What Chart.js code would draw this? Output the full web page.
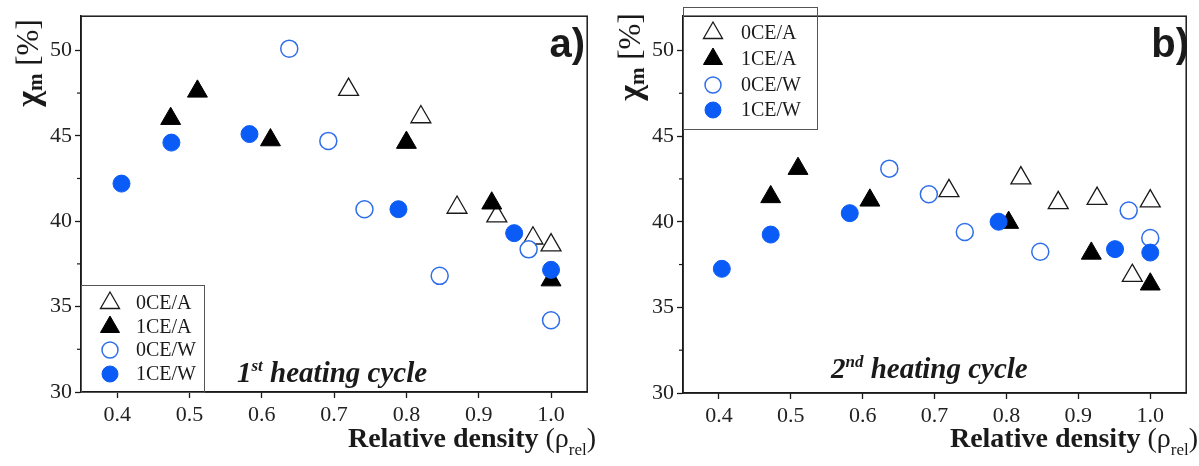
<!DOCTYPE html>
<html>
<head>
<meta charset="utf-8">
<script src="https://cdn.jsdelivr.net/npm/chart.js@4/dist/chart.umd.min.js"></script>
<style>
    html, body { margin: 0; padding: 0; background: #fff; }
    .panel { position: absolute; top: 0; height: 466px; }
    #wrapA { left: 0; width: 600px; }
    #wrapB { left: 600px; width: 599px; }
</style>
</head>
<body>
<div class="panel" id="wrapA"><canvas id="chartA"></canvas></div>
<div class="panel" id="wrapB"><canvas id="chartB"></canvas></div>
<script>
// Axis ticks
const xTicks = [0.4, 0.5, 0.6, 0.7, 0.8, 0.9, 1.0];
const yTicks = [30, 35, 40, 45, 50];
const yMinorTicks = [32.5, 37.5, 42.5, 47.5];
const seriesNames = ['0CE/A', '1CE/A', '0CE/W', '1CE/W'];

// a) 1st heating cycle
const a0CEA_x = [0.72, 0.82, 0.87, 0.925, 0.975, 1.0];
const a0CEA_y = [47.7, 46.1, 40.8, 40.3, 39.0, 38.6];
const a1CEA_x = [0.474, 0.511, 0.612, 0.80, 0.918, 1.0];
const a1CEA_y = [46.0, 47.6, 44.75, 44.6, 41.05, 36.55];
const a0CEW_x = [0.638, 0.692, 0.742, 0.846, 0.969, 1.0];
const a0CEW_y = [50.1, 44.7, 40.7, 36.8, 38.35, 34.2];
const a1CEW_x = [0.406, 0.475, 0.583, 0.789, 0.949, 1.0];
const a1CEW_y = [42.2, 44.6, 45.1, 40.7, 39.3, 37.15];

// b) 2nd heating cycle
const b0CEA_x = [0.72, 0.82, 0.872, 0.926, 0.975, 1.0];
const b0CEA_y = [41.8, 42.55, 41.1, 41.35, 36.85, 41.2];
const b1CEA_x = [0.472, 0.51, 0.61, 0.803, 0.918, 1.0];
const b1CEA_y = [41.45, 43.1, 41.25, 39.95, 38.15, 36.35];
const b0CEW_x = [0.637, 0.692, 0.742, 0.847, 0.97, 1.0];
const b0CEW_y = [43.1, 41.6, 39.4, 38.25, 40.65, 39.05];
const b1CEW_x = [0.404, 0.472, 0.582, 0.789, 0.951, 1.0];
const b1CEW_y = [37.25, 39.25, 40.5, 40.0, 38.4, 38.2];

const SERIF = '"Liberation Serif", "Times New Roman", serif';
const SANS = '"Liberation Sans", Arial, sans-serif';
const INK = '#1a1a1a';
const BLUE = '#0b5cf6';
const BLUE_LINE = '#2f6eea';

function pts(xs, ys) {
    return xs.map((x, i) => ({x: x, y: ys[i]}));
}

function makeDatasets(s) {
    return [
        {label: seriesNames[0], data: pts(s[0][0], s[0][1]), pointStyle: 'triangle', pointRadius: 11.5,
         backgroundColor: '#fff', borderColor: INK, borderWidth: 1.3, order: 4},
        {label: seriesNames[1], data: pts(s[1][0], s[1][1]), pointStyle: 'triangle', pointRadius: 11.5,
         backgroundColor: '#000', borderColor: '#000', borderWidth: 1, order: 3},
        {label: seriesNames[2], data: pts(s[2][0], s[2][1]), pointStyle: 'circle', pointRadius: 8.5,
         backgroundColor: '#fff', borderColor: BLUE_LINE, borderWidth: 1.5, order: 2},
        {label: seriesNames[3], data: pts(s[3][0], s[3][1]), pointStyle: 'circle', pointRadius: 8.5,
         backgroundColor: BLUE, borderColor: BLUE, borderWidth: 1, order: 1}
    ];
}

// draw a run of text pieces with different fonts / offsets
function drawRuns(ctx, runs, x, y, align) {
    let total = 0;
    runs.forEach(r => { ctx.font = r.font; total += ctx.measureText(r.t).width; });
    let cx = align === 'right' ? x - total : (align === 'center' ? x - total / 2 : x);
    runs.forEach(r => {
        ctx.font = r.font;
        ctx.fillText(r.t, cx, y + (r.dy || 0));
        cx += ctx.measureText(r.t).width;
    });
}

const decorPlugin = {
    id: 'decor',
    afterDraw(chart, args, opts) {
        const ctx = chart.ctx;
        const area = chart.chartArea;
        const ys = chart.scales.y;
        ctx.save();
        ctx.fillStyle = INK;
        ctx.strokeStyle = INK;

        // frame
        ctx.lineWidth = 1.5;
        ctx.strokeRect(area.left, area.top, area.right - area.left, area.bottom - area.top);

        // minor y ticks
        ctx.lineWidth = 1.2;
        yMinorTicks.forEach(v => {
            const py = ys.getPixelForValue(v);
            ctx.beginPath();
            ctx.moveTo(area.left - 4, py);
            ctx.lineTo(area.left, py);
            ctx.stroke();
        });

        // legend box
        const lg = opts.legend;
        ctx.lineWidth = 1;
        ctx.strokeStyle = '#555';
        ctx.strokeRect(lg.x + 0.5, lg.y + 0.5, lg.w, lg.h);
        ctx.textBaseline = 'middle';
        ctx.textAlign = 'left';
        chart.data.datasets.forEach((ds, i) => {
            const ly = lg.rows[i];
            ctx.fillStyle = ds.backgroundColor;
            ctx.strokeStyle = ds.borderColor;
            ctx.lineWidth = ds.borderWidth;
            Chart.helpers.drawPoint(ctx, {
                pointStyle: ds.pointStyle,
                radius: ds.pointRadius - 0.5,
                rotation: 0,
                borderWidth: ds.borderWidth
            }, lg.mx, ly);
            ctx.fillStyle = INK;
            ctx.font = '20px ' + SERIF;
            ctx.fillText(ds.label, lg.tx, ly + 1);
        });

        ctx.fillStyle = INK;
        ctx.textBaseline = 'alphabetic';

        // panel letter
        ctx.font = 'bold 40px ' + SANS;
        ctx.textAlign = 'right';
        ctx.fillText(opts.letter, opts.letterX, 57);
        ctx.textAlign = 'left';

        // heating cycle note
        drawRuns(ctx, [
            {t: opts.cycle[0], font: 'italic bold 29px ' + SERIF},
            {t: opts.cycle[1], font: 'italic bold 17px ' + SERIF, dy: -11},
            {t: ' heating cycle', font: 'italic bold 29px ' + SERIF}
        ], opts.cycleX, opts.cycleY, 'left');

        // x axis title
        drawRuns(ctx, [
            {t: 'Relative density ', font: 'bold 28px ' + SERIF},
            {t: '(\u03c1', font: '28px ' + SERIF},
            {t: 'rel', font: '17px ' + SERIF, dy: 8},
            {t: ')', font: '28px ' + SERIF}
        ], opts.xTitleX, 447, 'right');

        // y axis title (rotated)
        ctx.translate(opts.yTitleX, opts.yTitleY);
        ctx.rotate(-Math.PI / 2);
        ctx.textBaseline = 'middle';
        drawRuns(ctx, [
            {t: '\u03c7', font: 'bold 34px ' + SERIF},
            {t: 'm', font: 'bold 21px ' + SERIF, dy: 7},
            {t: ' [%]', font: '31px ' + SERIF}
        ], 0, 0, 'center');
        ctx.restore();
    }
};

function makeChart(id, series, cfg) {
    const ctx = document.getElementById(id);
    return new Chart(ctx, {
        type: 'scatter',
        data: {datasets: makeDatasets(series)},
        options: {
            responsive: true,
            maintainAspectRatio: false,
            animation: false,
            events: [],
            layout: {padding: cfg.padding},
            plugins: {
                legend: {display: false},
                tooltip: {enabled: false},
                decor: cfg.decor
            },
            scales: {
                x: {
                    type: 'linear',
                    min: 0.35,
                    max: 1.05,
                    afterBuildTicks: s => { s.ticks = xTicks.map(v => ({value: v})); },
                    afterFit: s => { s.height = cfg.xHeight; },
                    border: {display: true, color: INK, width: 1.5},
                    grid: {drawOnChartArea: false, drawTicks: true, tickLength: 6, tickColor: INK, tickWidth: 1.3},
                    ticks: {
                        color: '#222',
                        padding: 4,
                        maxRotation: 0,
                        font: {family: SERIF, size: 22},
                        callback: v => Number(v).toFixed(1)
                    }
                },
                y: {
                    type: 'linear',
                    min: 30,
                    max: 52,
                    afterBuildTicks: s => { s.ticks = yTicks.map(v => ({value: v})); },
                    afterFit: s => { s.width = cfg.yWidth; },
                    border: {display: true, color: INK, width: 1.5},
                    grid: {drawOnChartArea: false, drawTicks: true, tickLength: 6, tickColor: INK, tickWidth: 1.3},
                    ticks: {
                        color: '#222',
                        padding: 3,
                        font: {family: SERIF, size: 22},
                        callback: v => String(v)
                    }
                }
            }
        },
        plugins: [decorPlugin]
    });
}

document.addEventListener('DOMContentLoaded', function() {
    makeChart('chartA', [[a0CEA_x, a0CEA_y], [a1CEA_x, a1CEA_y], [a0CEW_x, a0CEW_y], [a1CEW_x, a1CEW_y]], {
        padding: {left: 0, right: 7, top: 13, bottom: 0},
        yWidth: 81,
        xHeight: 74,
        decor: {
            legend: {x: 81, y: 285, w: 123, h: 107, rows: [303, 327, 350, 374], mx: 110, tx: 136},
            letter: 'a)', letterX: 585,
            cycle: ['1', 'st'], cycleX: 237, cycleY: 382,
            xTitleX: 596,
            yTitleX: 30, yTitleY: 63
        }
    });
    makeChart('chartB', [[b0CEA_x, b0CEA_y], [b1CEA_x, b1CEA_y], [b0CEW_x, b0CEW_y], [b1CEW_x, b1CEW_y]], {
        padding: {left: 0, right: 1, top: 7, bottom: 0},
        yWidth: 83,
        xHeight: 73,
        decor: {
            legend: {x: 83, y: 7, w: 134, h: 122, rows: [33, 59, 85, 110], mx: 113, tx: 141},
            letter: 'b)', letterX: 589,
            cycle: ['2', 'nd'], cycleX: 231, cycleY: 378,
            xTitleX: 598,
            yTitleX: 32, yTitleY: 57
        }
    });
});
</script>
</body>
</html>
